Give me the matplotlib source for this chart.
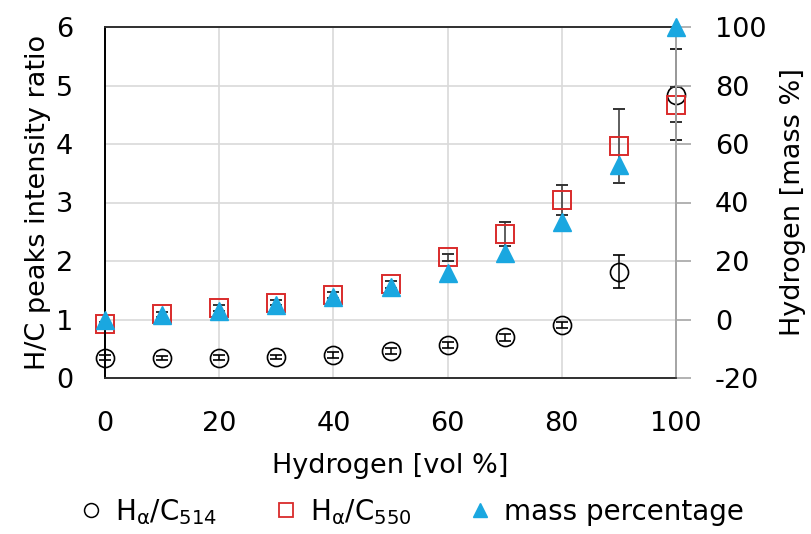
import matplotlib
matplotlib.use("Agg")
import matplotlib.pyplot as plt
from matplotlib.lines import Line2D

plt.rcParams['font.family'] = ['DejaVu Sans']
plt.rcParams['mathtext.fontset'] = 'dejavusans'
plt.rcParams['axes.unicode_minus'] = False

hydrogen_vol = [0, 10, 20, 30, 40, 50, 60, 70, 80, 90, 100]
ratio_514 = [0.35, 0.34, 0.35, 0.36, 0.40, 0.46, 0.56, 0.70, 0.91, 1.82, 4.84]
err_514 = [0.04, 0.04, 0.04, 0.04, 0.05, 0.05, 0.05, 0.06, 0.05, 0.28, 0.78]
ratio_550 = [0.93, 1.09, 1.19, 1.29, 1.42, 1.60, 2.06, 2.46, 3.04, 3.97, 4.67]
err_550 = [0.03, 0.04, 0.05, 0.05, 0.05, 0.06, 0.06, 0.20, 0.26, 0.63, 0.30]
mass_pct = [0, 1.4, 3.0, 5.1, 7.7, 11.1, 15.8, 22.6, 33.3, 52.9, 100]

left_ticks = [0, 1, 2, 3, 4, 5, 6]
right_ticks = [-20, 0, 20, 40, 60, 80, 100]
x_ticks = [0, 20, 40, 60, 80, 100]

FS = 19.5

fig = plt.figure(figsize=(8.11, 5.34), dpi=100)
ax = fig.add_axes([105/811, 1-378/534, (676-105)/811, (378-27)/534])
ax2 = ax.twinx()

grid_c = '#D9D9D9'
ax.set_xlim(0, 100)
ax.set_ylim(0, 6)
ax.set_xticks(x_ticks)
ax.set_yticks(left_ticks)
ax.grid(True, color=grid_c, lw=1.2)
ax.set_axisbelow(True)
ax.tick_params(axis='x', length=0, labelsize=FS, pad=24)
ax.tick_params(axis='y', length=0, labelsize=FS, pad=23)

ax.errorbar(hydrogen_vol, ratio_514, yerr=err_514, fmt='o', ms=13, mfc='none',
            mec='black', mew=1.2, ecolor='black', elinewidth=1.1, capsize=4,
            capthick=1.1, clip_on=False, zorder=3, label=r'H$_{\mathrm{α}}$/C$_{514}$')
ax.errorbar(hydrogen_vol, ratio_550, yerr=err_550, fmt='s', ms=13.5, mfc='none',
            mec='#D92B2B', mew=1.4, ecolor='#333333', elinewidth=1.1, capsize=4,
            capthick=1.1, clip_on=False, zorder=4, label=r'H$_{\mathrm{α}}$/C$_{550}$')

ax2.set_ylim(-20, 100)
ax2.set_yticks(right_ticks)
ax2.plot(hydrogen_vol, mass_pct, '^', ms=13, color='#1AA7E0', mec='#1AA7E0',
         clip_on=False, zorder=5, label='mass percentage')
ax2.tick_params(axis='y', direction='out', length=11, width=1.2, color='#A6A6A6',
                labelsize=FS, pad=17)

for a in (ax, ax2):
    a.spines['left'].set_color('black')
    a.spines['left'].set_linewidth(1.3)
    a.spines['bottom'].set_color('#333333')
    a.spines['bottom'].set_linewidth(1.3)
    a.spines['top'].set_color('#333333')
    a.spines['top'].set_linewidth(1.3)
    a.spines['right'].set_color('#A6A6A6')
    a.spines['right'].set_linewidth(1.3)

ax.set_xlabel('Hydrogen [vol %]', fontsize=FS, labelpad=11)
ax.set_ylabel('H/C peaks intensity ratio', fontsize=FS, labelpad=3.5)
ax2.set_ylabel('Hydrogen [mass %]', fontsize=FS, labelpad=10)

h1, l1 = ax.get_legend_handles_labels()
h2, l2 = ax2.get_legend_handles_labels()
handles = [Line2D([], [], ls='none', marker='o', ms=10, mfc='none', mec='black', mew=1.1),
           Line2D([], [], ls='none', marker='s', ms=10, mfc='none', mec='#D92B2B', mew=1.3),
           Line2D([], [], ls='none', marker='^', ms=10, color='#1AA7E0')]
fig.legend(handles, [l1[0], l1[1], l2[0]], loc='center', bbox_to_anchor=(412/811, 1-512/534),
           ncol=3, frameon=False, fontsize=20, handlelength=0.8, handletextpad=0.45,
           columnspacing=2.1, borderpad=0, borderaxespad=0)

fig.savefig('out.png', dpi=100)
